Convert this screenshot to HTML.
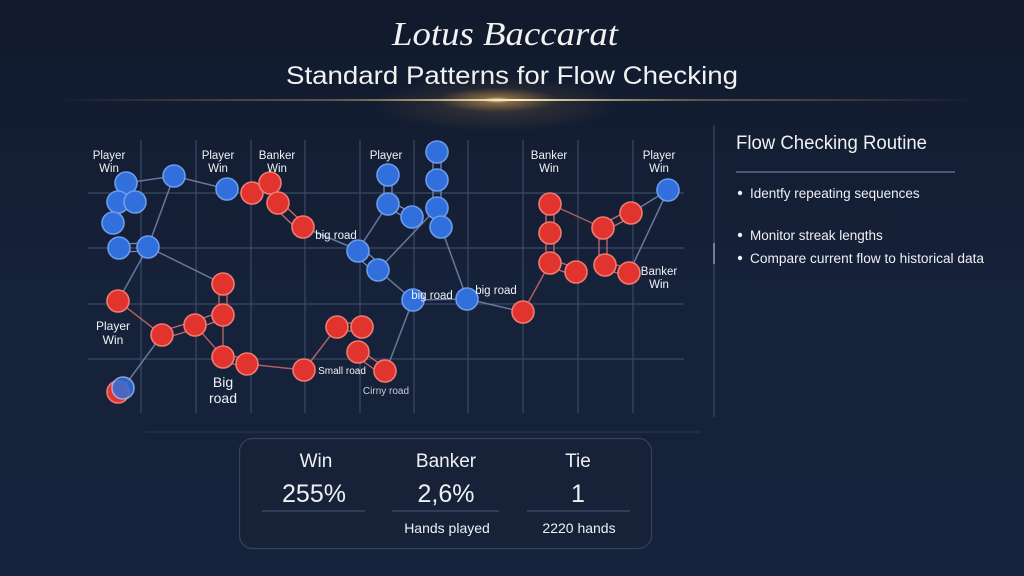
<!DOCTYPE html>
<html><head><meta charset="utf-8"><style>
html,body{margin:0;padding:0;}
body{width:1024px;height:576px;overflow:hidden;background:#15203a;font-family:"Liberation Sans",sans-serif;}
svg{display:block;}
</style></head><body>
<svg width="1024" height="576" viewBox="0 0 1024 576" xmlns="http://www.w3.org/2000/svg">
<defs>
<linearGradient id="bg" x1="0" y1="0" x2="0" y2="1">
<stop offset="0" stop-color="#111a2c"/><stop offset="0.5" stop-color="#16213a"/><stop offset="1" stop-color="#16223b"/>
</linearGradient>
<linearGradient id="glowline" x1="0" y1="0" x2="1" y2="0">
<stop offset="0" stop-color="#c9a46a" stop-opacity="0"/>
<stop offset="0.3" stop-color="#a88a60" stop-opacity="0.5"/>
<stop offset="0.5" stop-color="#fff1c8" stop-opacity="1"/>
<stop offset="0.7" stop-color="#a88a60" stop-opacity="0.5"/>
<stop offset="1" stop-color="#c9a46a" stop-opacity="0"/>
</linearGradient>
<radialGradient id="glow" cx="0.5" cy="0.5" r="0.5">
<stop offset="0" stop-color="#fff0c8" stop-opacity="1"/>
<stop offset="0.25" stop-color="#e0aa5a" stop-opacity="0.45"/>
<stop offset="1" stop-color="#d8a050" stop-opacity="0"/>
</radialGradient>
<radialGradient id="glow2" cx="0.5" cy="0.5" r="0.5">
<stop offset="0" stop-color="#8a6a40" stop-opacity="0.35"/>
<stop offset="1" stop-color="#8a6a40" stop-opacity="0"/>
</radialGradient>
</defs>
<rect width="1024" height="576" fill="url(#bg)"/>

<!-- Title -->
<text x="505" y="45" text-anchor="middle" font-family="Liberation Serif,serif" font-style="italic" font-size="34" fill="#f2f2f2" textLength="226" lengthAdjust="spacingAndGlyphs">Lotus Baccarat</text>
<text x="512" y="84" text-anchor="middle" font-family="Liberation Sans,sans-serif" font-size="25" fill="#f2f2f2" textLength="452" lengthAdjust="spacingAndGlyphs">Standard Patterns for Flow Checking</text>
<ellipse cx="497" cy="104" rx="120" ry="28" fill="url(#glow2)"/>
<ellipse cx="497" cy="100" rx="60" ry="12" fill="url(#glow)"/>
<rect x="58" y="99" width="916" height="2" fill="url(#glowline)"/>

<!-- Grid -->
<g stroke="#3a4966" stroke-width="1.2">
<line x1="141" y1="140" x2="141" y2="413"/>
<line x1="196" y1="140" x2="196" y2="413"/>
<line x1="251" y1="140" x2="251" y2="413"/>
<line x1="305" y1="140" x2="305" y2="413"/>
<line x1="360" y1="140" x2="360" y2="413"/>
<line x1="414" y1="140" x2="414" y2="413"/>
<line x1="468" y1="140" x2="468" y2="413"/>
<line x1="523" y1="140" x2="523" y2="413"/>
<line x1="578" y1="140" x2="578" y2="413"/>
<line x1="633" y1="140" x2="633" y2="413"/>
<line x1="88" y1="193" x2="684" y2="193"/>
<line x1="88" y1="248" x2="684" y2="248"/>
<line x1="88" y1="304" x2="684" y2="304"/>
<line x1="88" y1="359" x2="684" y2="359"/>
</g>
<line x1="714" y1="125" x2="714" y2="417" stroke="#3a4966" stroke-width="1.2"/>
<line x1="714" y1="243" x2="714" y2="264" stroke="#8a9ab8" stroke-width="1.5"/>
<line x1="145" y1="432" x2="700" y2="432" stroke="#2e3b56" stroke-width="1"/>

<!-- Edges -->
<g stroke="#7488b0" stroke-width="1.5" fill="none" opacity="0.85">
<line x1="126" y1="183" x2="174" y2="176"/>
<line x1="174" y1="176" x2="148" y2="247"/>
<line x1="148" y1="247" x2="118" y2="301"/>
<line x1="148" y1="247" x2="223" y2="284"/>
<line x1="162" y1="335" x2="123" y2="388"/>
<line x1="174" y1="176" x2="227" y2="189"/>
<line x1="303" y1="227" x2="358" y2="250"/>
<line x1="358" y1="250" x2="388" y2="204"/>
<line x1="378" y1="270" x2="437" y2="208"/>
<line x1="378" y1="270" x2="413" y2="300"/>
<line x1="413" y1="300" x2="386" y2="371"/>
<line x1="413" y1="300" x2="467" y2="299"/>
<line x1="441" y1="227" x2="467" y2="299"/>
<line x1="467" y1="299" x2="523" y2="312"/>
<line x1="668" y1="190" x2="629" y2="273"/>
<line x1="668" y1="190" x2="631" y2="213"/>
</g>
<g stroke="#c86a6a" stroke-width="1.5" fill="none" opacity="0.85">
<line x1="118" y1="301" x2="162" y2="335"/>
<line x1="523" y1="312" x2="550" y2="263"/>
<line x1="550" y1="204" x2="603" y2="228"/>
<line x1="304" y1="370" x2="247" y2="364"/>
<line x1="304" y1="370" x2="337" y2="327"/>
<line x1="223" y1="315" x2="223" y2="357"/>
<line x1="195" y1="325" x2="223" y2="357"/>
</g>
<!-- ladder double connectors -->
<g stroke="#c86a6a" stroke-width="1.3" fill="none">
<path d="M546 204V233M554 204V233M546 233V263M554 233V263"/>
<path d="M599 228V265M607 228V265"/>
<path d="M219 284V315M227 284V315"/>
<path d="M162 331L195 321M162 339L195 329M195 321L223 311M195 329L223 319"/>
<path d="M223 353L247 360M223 361L247 368"/>
<path d="M358 348L384 367M356 356L382 375"/>
<path d="M550 259L576 268M550 267L576 276"/>
<path d="M605 261L629 269M605 269L629 277"/>
<path d="M603 224L631 209M603 232L631 217"/>
<path d="M278 199L303 223M274 207L299 231"/>
<path d="M337 323L362 323M337 331L362 331"/>
</g>
<g stroke="#7488b0" stroke-width="1.3" fill="none">
<path d="M433 152V208M441 152V208"/>
<path d="M384 175V204M392 175V204"/>
<path d="M119 244L148 243M119 252L148 251"/>
<path d="M388 200L412 213M388 208L412 221"/>
<path d="M354 254L374 272M362 248L382 266"/>
<path d="M114 206L110 223M122 206L118 223"/>
</g>

<!-- Blue nodes -->
<g fill="#3170dc" stroke="#6d9ceb" stroke-width="1.6">
<circle cx="126" cy="183" r="11"/>
<circle cx="174" cy="176" r="11"/>
<circle cx="118" cy="202" r="11"/>
<circle cx="113" cy="223" r="11"/>
<circle cx="135" cy="202" r="11"/>
<circle cx="119" cy="248" r="11"/>
<circle cx="148" cy="247" r="11"/>
<circle cx="227" cy="189" r="11"/>
<circle cx="358" cy="251" r="11"/>
<circle cx="378" cy="270" r="11"/>
<circle cx="388" cy="175" r="11"/>
<circle cx="388" cy="204" r="11"/>
<circle cx="412" cy="217" r="11"/>
<circle cx="437" cy="152" r="11"/>
<circle cx="437" cy="180" r="11"/>
<circle cx="437" cy="208" r="11"/>
<circle cx="441" cy="227" r="11"/>
<circle cx="413" cy="300" r="11"/>
<circle cx="467" cy="299" r="11"/>
<circle cx="668" cy="190" r="11"/>
</g>
<!-- Red nodes -->
<g fill="#e1342f" stroke="#f07b72" stroke-width="1.6">
<circle cx="118" cy="392" r="11"/>
<circle cx="118" cy="301" r="11"/>
<circle cx="162" cy="335" r="11"/>
<circle cx="195" cy="325" r="11"/>
<circle cx="223" cy="284" r="11"/>
<circle cx="223" cy="315" r="11"/>
<circle cx="223" cy="357" r="11"/>
<circle cx="247" cy="364" r="11"/>
<circle cx="304" cy="370" r="11"/>
<circle cx="337" cy="327" r="11"/>
<circle cx="362" cy="327" r="11"/>
<circle cx="358" cy="352" r="11"/>
<circle cx="385" cy="371" r="11"/>
<circle cx="252" cy="193" r="11"/>
<circle cx="270" cy="183" r="11"/>
<circle cx="278" cy="203" r="11"/>
<circle cx="303" cy="227" r="11"/>
<circle cx="523" cy="312" r="11"/>
<circle cx="550" cy="204" r="11"/>
<circle cx="550" cy="233" r="11"/>
<circle cx="550" cy="263" r="11"/>
<circle cx="576" cy="272" r="11"/>
<circle cx="603" cy="228" r="11"/>
<circle cx="631" cy="213" r="11"/>
<circle cx="605" cy="265" r="11"/>
<circle cx="629" cy="273" r="11"/>
</g>
<circle cx="123" cy="388" r="11" fill="#3170dc" stroke="#9cb8f0" stroke-width="1.6" opacity="0.85"/>

<!-- Chart labels -->
<g fill="#f0f2f6" font-family="Liberation Sans,sans-serif" font-size="11.5" text-anchor="middle">
<text x="109" y="159">Player</text><text x="109" y="172">Win</text>
<text x="218" y="159">Player</text><text x="218" y="172">Win</text>
<text x="277" y="159">Banker</text><text x="277" y="172">Win</text>
<text x="386" y="159">Player</text>
<text x="549" y="159">Banker</text><text x="549" y="172">Win</text>
<text x="659" y="159">Player</text><text x="659" y="172">Win</text>
<text x="659" y="275">Banker</text><text x="659" y="288">Win</text>
<text x="336" y="239">big road</text>
<text x="432" y="299">big road</text>
<text x="496" y="294">big road</text>
<text x="113" y="330" font-size="12">Player</text><text x="113" y="344" font-size="12">Win</text>
<text x="223" y="387" font-size="14">Big</text><text x="223" y="403" font-size="14">road</text>
<text x="342" y="374" font-size="10">Small road</text>
<text x="386" y="394" font-size="10" fill="#c8ccd6">Cirny road</text>
</g>

<!-- Right panel -->
<text x="736" y="149" font-family="Liberation Sans,sans-serif" font-size="19" fill="#eef0f4" textLength="191" lengthAdjust="spacingAndGlyphs">Flow Checking Routine</text>
<line x1="736" y1="172" x2="955" y2="172" stroke="#6d7a94" stroke-width="1.2"/>
<g font-family="Liberation Sans,sans-serif" font-size="13.5" fill="#eef0f4">
<circle cx="740" cy="193" r="2.2"/><text x="750" y="198">Identfy repeating sequences</text>
<circle cx="740" cy="235" r="2.2"/><text x="750" y="240">Monitor streak lengths</text>
<circle cx="740" cy="258" r="2.2"/><text x="750" y="263" textLength="234" lengthAdjust="spacingAndGlyphs">Compare current flow to historical data</text>
</g>

<!-- Stats box -->
<rect x="239.5" y="438.5" width="412" height="110" rx="13" fill="#172239" stroke="#34425c" stroke-width="1.2"/>
<g font-family="Liberation Sans,sans-serif" fill="#eef0f4" text-anchor="middle">
<text x="316" y="467" font-size="19">Win</text>
<text x="446" y="467" font-size="19">Banker</text>
<text x="578" y="467" font-size="19">Tie</text>
<text x="314" y="502" font-size="25">255%</text>
<text x="446" y="502" font-size="25">2,6%</text>
<text x="578" y="502" font-size="25">1</text>
<text x="447" y="533" font-size="14">Hands played</text>
<text x="579" y="533" font-size="14">2220 hands</text>
</g>
<g stroke="#3e4b66" stroke-width="1.2">
<line x1="262" y1="511" x2="365" y2="511"/>
<line x1="392" y1="511" x2="499" y2="511"/>
<line x1="527" y1="511" x2="630" y2="511"/>
</g>
</svg>
</body></html>
